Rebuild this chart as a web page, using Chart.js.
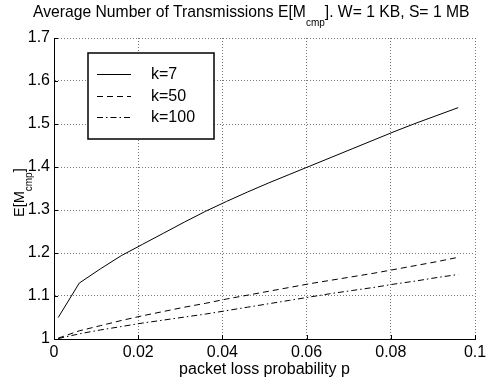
<!DOCTYPE html>
<html lang="en">
<head>
<meta charset="UTF-8">
<title>Average Number of Transmissions</title>
<script src="https://cdn.jsdelivr.net/npm/chart.js@4.4.0/dist/chart.umd.min.js"></script>
<style>
  html, body { margin:0; padding:0; background:#fff; }
  #wrap { width:493px; height:389px; position:relative; }
</style>
</head>
<body>
<div id="wrap"><canvas id="myChart"></canvas></div>
<script>
// data
var pValues = [0.001, 0.006, 0.011, 0.016, 0.021, 0.026, 0.031, 0.036, 0.041, 0.046,
               0.051, 0.056, 0.061, 0.066, 0.071, 0.076, 0.081, 0.086, 0.091, 0.096];
var k7   = [1.050, 1.130, 1.163, 1.194, 1.220, 1.246, 1.272, 1.297, 1.320, 1.342,
            1.363, 1.383, 1.403, 1.423, 1.443, 1.463, 1.483, 1.502, 1.520, 1.538];
var k50  = [1.002, 1.019, 1.031, 1.043, 1.054, 1.064, 1.074, 1.083, 1.093, 1.102,
            1.111, 1.120, 1.129, 1.137, 1.145, 1.153, 1.162, 1.171, 1.180, 1.190];
var k100 = [1.001, 1.012, 1.021, 1.029, 1.037, 1.044, 1.051, 1.058, 1.066, 1.074,
            1.082, 1.090, 1.098, 1.106, 1.113, 1.120, 1.128, 1.135, 1.143, 1.150];
var seriesNames = ['k=7', 'k=50', 'k=100'];

var xTicks = [0, 0.02, 0.04, 0.06, 0.08, 0.1];
var xTickLabels = ['0', '0.02', '0.04', '0.06', '0.08', '0.1'];
var yTicks = [1, 1.1, 1.2, 1.3, 1.4, 1.5, 1.6, 1.7];
var yTickLabels = ['1', '1.1', '1.2', '1.3', '1.4', '1.5', '1.6', '1.7'];

var FONT = "'Liberation Sans', Arial, Helvetica, sans-serif";

function pts(ys) {
    var out = [];
    for (var i = 0; i < pValues.length; i++) out.push({x: pValues[i], y: ys[i]});
    return out;
}

// text with one subscript part: [before, sub, after]
function subText(ctx, x, y, parts, size) {
    ctx.font = size + 'px ' + FONT;
    ctx.fillText(parts[0], x, y);
    x += ctx.measureText(parts[0]).width;
    ctx.font = '10px ' + FONT;
    ctx.fillText(parts[1], x, y + 8.5);
    x += ctx.measureText(parts[1]).width;
    ctx.font = size + 'px ' + FONT;
    ctx.fillText(parts[2], x, y);
}

const decor = {
    id: 'decor',
    beforeDraw(chart) {
        const ctx = chart.ctx;
        ctx.save();
        ctx.fillStyle = '#fff';
        ctx.fillRect(0, 0, chart.width, chart.height);
        ctx.restore();
    },
    afterDraw(chart) {
        const ctx = chart.ctx;
        const xs = chart.scales.x, ys = chart.scales.y;
        const a = chart.chartArea;
        ctx.save();
        ctx.strokeStyle = '#000';
        ctx.lineWidth = 1;
        ctx.setLineDash([]);
        // inward ticks
        ctx.beginPath();
        xTicks.forEach(function (v) {
            var px = Math.round(xs.getPixelForValue(v)) + 0.5;
            ctx.moveTo(px, a.bottom);
            ctx.lineTo(px, a.bottom - 4);
        });
        yTicks.forEach(function (v) {
            var py = Math.round(ys.getPixelForValue(v)) + 0.5;
            ctx.moveTo(a.left, py);
            ctx.lineTo(a.left + 4, py);
        });
        ctx.stroke();

        // title
        ctx.fillStyle = '#000';
        ctx.textBaseline = 'alphabetic';
        ctx.textAlign = 'left';
        subText(ctx, 33, 17, ['Average Number of Transmissions E[M', 'cmp', ']. W= 1 KB, S= 1 MB'], 15.7);

        // y axis label
        ctx.save();
        ctx.translate(23.5, 217);
        ctx.rotate(-Math.PI / 2);
        subText(ctx, 0, 0, ['E[M', 'cmp', ']'], 14.5);
        ctx.restore();

        // legend
        var bx = 88, by = 53, bw = 126, bh = 86;
        ctx.fillStyle = '#fff';
        ctx.fillRect(bx, by, bw, bh);
        ctx.lineWidth = 1.5;
        ctx.strokeRect(bx, by, bw, bh);
        var rows = [74, 96, 117];
        chart.data.datasets.forEach(function (ds, i) {
            ctx.beginPath();
            ctx.lineWidth = 1;
            ctx.setLineDash(ds.borderDash || []);
            ctx.moveTo(97, rows[i] + 0.5);
            ctx.lineTo(131, rows[i] + 0.5);
            ctx.stroke();
            ctx.setLineDash([]);
            ctx.fillStyle = '#000';
            ctx.font = '16px ' + FONT;
            ctx.textBaseline = 'middle';
            ctx.fillText(ds.label, 151, rows[i] + 1);
        });
        ctx.restore();
    }
};

const chartdata = {
    datasets: [{
        label: seriesNames[0],
        data: pts(k7),
        borderColor: '#000',
        borderWidth: 1,
        borderDash: []
    }, {
        label: seriesNames[1],
        data: pts(k50),
        borderColor: '#000',
        borderWidth: 1,
        borderDash: [6, 4]
    }, {
        label: seriesNames[2],
        data: pts(k100),
        borderColor: '#000',
        borderWidth: 1,
        borderDash: [6, 3, 1.5, 3]
    }]
};

const config = {
    type: 'line',
    data: chartdata,
    options: {
        responsive: true,
        maintainAspectRatio: false,
        animation: false,
        devicePixelRatio: 1,
        elements: { point: { radius: 0 }, line: { tension: 0 } },
        layout: { padding: { top: 38, right: 18, left: 0, bottom: 0 } },
        plugins: { legend: { display: false }, tooltip: { enabled: false } },
        scales: {
            x: {
                type: 'linear',
                min: 0, max: 0.1,
                afterBuildTicks: function (s) { s.ticks = xTicks.map(function (v) { return {value: v}; }); },
                afterFit: function (s) { s.height = 50; s.paddingLeft = 0; s.paddingRight = 0; },
                ticks: {
                    color: '#000',
                    padding: 4,
                    maxRotation: 0,
                    autoSkip: false,
                    font: { family: FONT, size: 16 },
                    callback: function (v) { return xTickLabels[xTicks.indexOf(v)]; }
                },
                grid: { color: '#777', lineWidth: 1, drawTicks: false },
                border: { display: true, color: '#000', width: 1, dash: [1, 2] },
                title: {
                    display: true,
                    text: 'packet loss probability p',
                    color: '#000',
                    font: { family: FONT, size: 16 },
                    padding: { top: 0, bottom: 10 }
                }
            },
            y: {
                type: 'linear',
                min: 1, max: 1.7,
                afterBuildTicks: function (s) { s.ticks = yTicks.map(function (v) { return {value: v}; }); },
                afterFit: function (s) { s.width = 54; s.paddingTop = 0; s.paddingBottom = 0; },
                ticks: {
                    color: '#000',
                    padding: 4,
                    autoSkip: false,
                    font: { family: FONT, size: 16 },
                    callback: function (v) {
                        for (var i = 0; i < yTicks.length; i++) {
                            if (Math.abs(yTicks[i] - v) < 1e-9) return yTickLabels[i];
                        }
                        return '';
                    }
                },
                grid: { color: '#777', lineWidth: 1, drawTicks: false },
                border: { display: true, color: '#000', width: 1, dash: [1, 2] }
            }
        }
    },
    plugins: [decor]
};

var myChart = new Chart(document.getElementById('myChart'), config);
</script>
</body>
</html>
